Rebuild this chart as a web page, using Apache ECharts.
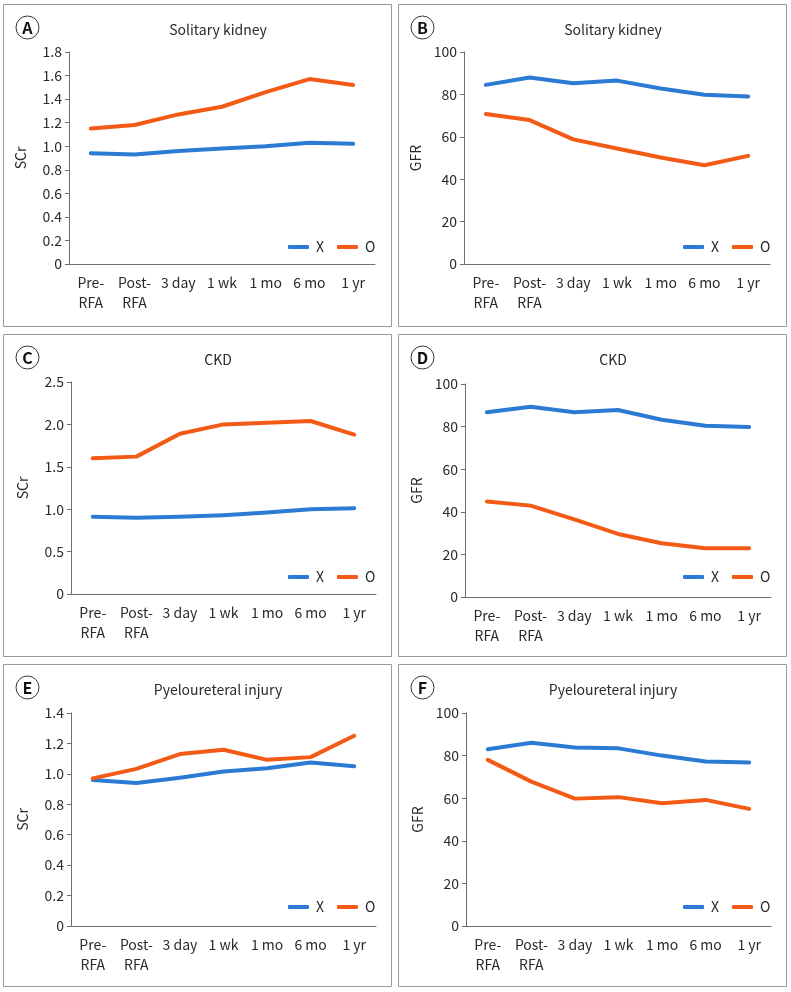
<!DOCTYPE html>
<html>
<head>
<meta charset="utf-8">
<script src="https://cdn.jsdelivr.net/npm/echarts@6/dist/echarts.min.js"></script>
<style>html,body{margin:0;padding:0;background:#fff;}#c{width:791px;height:992px;}</style>
</head>
<body>
<div id="c"></div>
<script>
const categories = ['Pre-\nRFA','Post-\nRFA','3 day','1 wk','1 mo','6 mo','1 yr'];
const seriesNames = ['X','O'];
// A: Solitary kidney SCr
const solitaryScrX = [0.94, 0.93, 0.96, 0.98, 1.00, 1.03, 1.02];
const solitaryScrO = [1.15, 1.18, 1.27, 1.335, 1.46, 1.57, 1.52];
// B: Solitary kidney GFR
const solitaryGfrX = [84.5, 88.0, 85.3, 86.5, 82.8, 79.8, 79.0];
const solitaryGfrO = [70.8, 67.9, 58.8, 54.5, 50.2, 46.6, 51.0];
// C: CKD SCr
const ckdScrX = [0.91, 0.90, 0.91, 0.93, 0.96, 1.00, 1.01];
const ckdScrO = [1.60, 1.62, 1.89, 2.00, 2.02, 2.04, 1.88];
// D: CKD GFR
const ckdGfrX = [86.7, 89.3, 86.7, 87.8, 83.2, 80.4, 79.8];
const ckdGfrO = [44.8, 42.9, 36.4, 29.6, 25.2, 22.9, 22.9];
// E: Pyeloureteral injury SCr
const pyeloScrX = [0.96, 0.94, 0.975, 1.015, 1.037, 1.075, 1.05];
const pyeloScrO = [0.97, 1.033, 1.13, 1.158, 1.092, 1.11, 1.25];
// F: Pyeloureteral injury GFR
const pyeloGfrX = [83.0, 86.0, 83.8, 83.4, 80.0, 77.2, 76.8];
const pyeloGfrO = [78.0, 67.8, 59.8, 60.5, 57.6, 59.2, 55.0];

const titles = ['Solitary kidney','Solitary kidney','CKD','CKD','Pyeloureteral injury','Pyeloureteral injury'];
const letters = ['A','B','C','D','E','F'];
const yNames = ['SCr','GFR','SCr','GFR','SCr','GFR'];
const yMax = [1.8, 100, 2.5, 100, 1.4, 100];
const yInterval = [0.2, 20, 0.5, 20, 0.2, 20];
const panelData = [
  [solitaryScrX, solitaryScrO], [solitaryGfrX, solitaryGfrO],
  [ckdScrX, ckdScrO], [ckdGfrX, ckdGfrO],
  [pyeloScrX, pyeloScrO], [pyeloGfrX, pyeloGfrO]
];

const FONT = '"Noto Sans CJK KR","Noto Sans",sans-serif';
const BLUE = '#2b7ad3';
const ORANGE = '#f25a16';
const TXT = '#2a2a2a';

const panels = [
  {x:3, y:4}, {x:398, y:4},
  {x:3, y:334}, {x:398, y:334},
  {x:3, y:664}, {x:398, y:664}
];
const PW = 388, PH = 322;
const grids = [
  {left:69, top:52, width:306, height:212},
  {left:464, top:52, width:306, height:212},
  {left:71, top:382, width:305, height:212},
  {left:465, top:384, width:306, height:213},
  {left:71, top:713, width:305, height:213},
  {left:466, top:713, width:305, height:213}
];

const option = {
  animation: false,
  textStyle: {fontFamily: FONT},
  grid: grids.map(g => Object.assign({containLabel:false}, g)),
  xAxis: grids.map((g, i) => ({
    type: 'category', gridIndex: i, data: categories, boundaryGap: true,
    axisLine: {lineStyle: {color: '#6e6e6e', width: 1}},
    axisTick: {show: false},
    axisLabel: {color: TXT, fontSize: 14, lineHeight: 20, margin: 9, interval: 0, fontFamily: FONT},
    splitLine: {show: false}
  })),
  yAxis: grids.map((g, i) => ({
    type: 'value', gridIndex: i, min: 0, max: yMax[i], interval: yInterval[i],
    name: yNames[i], nameLocation: 'middle', nameGap: 41,
    nameTextStyle: {color: TXT, fontSize: 14, fontFamily: FONT},
    axisLine: {show: true, lineStyle: {color: '#6e6e6e', width: 1}},
    axisTick: {show: true, length: 4, lineStyle: {color: '#6e6e6e'}},
    axisLabel: {color: TXT, fontSize: 14, margin: 7, fontFamily: FONT,
      formatter: v => (yMax[i] === 100 ? String(v) : (v === 0 ? '0' : v.toFixed(1)))},
    splitLine: {show: false}
  })),
  legend: panels.map((p, i) => ({
    data: seriesNames, left: p.x + 280, top: p.y + 231,
    itemWidth: 21, itemHeight: 4, itemGap: 13, icon: 'roundRect',
    textStyle: {color: TXT, fontSize: 14, fontFamily: FONT, padding: [0,0,0,2]},
    selectedMode: false
  })),
  series: [],
  graphic: []
};

panelData.forEach((pair, i) => {
  pair.forEach((vals, k) => {
    option.series.push({
      type: 'line', name: seriesNames[k], xAxisIndex: i, yAxisIndex: i,
      data: vals, symbol: 'none', smooth: false,
      lineStyle: {color: k === 0 ? BLUE : ORANGE, width: 4, cap: 'round', join: 'round'},
      itemStyle: {color: k === 0 ? BLUE : ORANGE}
    });
  });
});

panels.forEach((p, i) => {
  option.graphic.push({
    type: 'rect', shape: {x: p.x + 0.5, y: p.y + 0.5, width: PW, height: PH},
    style: {fill: 'none', stroke: '#9a9a9a', lineWidth: 1}, silent: true
  });
  option.graphic.push({
    type: 'circle', shape: {cx: p.x + 24.5, cy: p.y + 23.5, r: 11.5},
    style: {fill: '#fff', stroke: '#333', lineWidth: 1}, silent: true
  });
  option.graphic.push({
    type: 'text', x: p.x + 24.5, y: p.y + 24,
    style: {text: letters[i], fill: '#111', font: '600 16px ' + FONT, textAlign: 'center', textVerticalAlign: 'middle'},
    silent: true
  });
  option.graphic.push({
    type: 'text', x: p.x + 215, y: p.y + 26,
    style: {text: titles[i], fill: TXT, font: '14px ' + FONT, textAlign: 'center', textVerticalAlign: 'middle'},
    silent: true
  });
});

const chart = echarts.init(document.getElementById('c'), null, {renderer: 'canvas'});
chart.setOption(option);
</script>
</body>
</html>
